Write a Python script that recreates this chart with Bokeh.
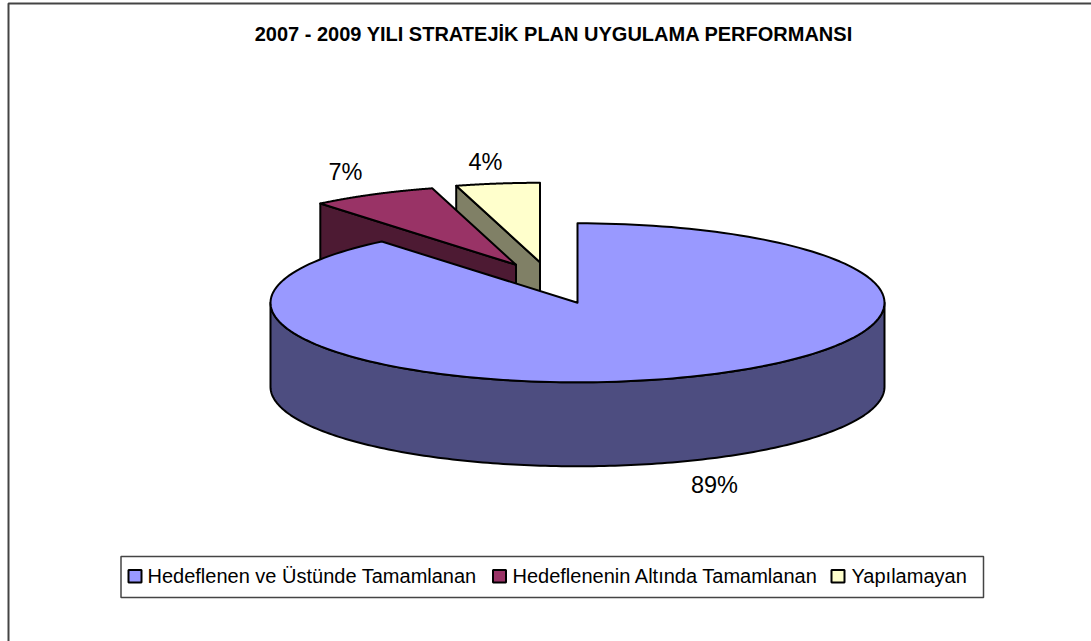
import numpy as np
from bokeh.plotting import figure
from bokeh.embed import file_html
from bokeh.resources import INLINE
from bokeh.models import Range1d
from bokeh.core.properties import value

title = "2007 - 2009 YILI STRATEJİK PLAN UYGULAMA PERFORMANSI"
categories = ["Hedeflenen ve Üstünde Tamamlanan", "Hedeflenenin Altında Tamamlanan", "Yapılamayan"]
shares = [89.0, 6.6, 4.4]
top_colors = ["#9999FF", "#993366", "#FFFFCC"]
wall_colors = ["#4D4D80", "#4D1A33", "#808066"]
# chart-space explode offsets of each slice
offsets = [(0, 0), (-61.5, -38), (-37.5, -40.5)]

W, H = 1091, 641
CX, CY, RX, RY, DEPTH = 577, 302.3, 307, 79.5, 84
FONT = value("Liberation Sans")

p = figure(width=W, height=H, x_range=Range1d(0, W), y_range=Range1d(H, 0),
           output_backend="svg", toolbar_location=None, min_border=0)
p.axis.visible = False
p.grid.visible = False
p.outline_line_color = None
p.styles = {"position": "absolute", "left": "0", "top": "0"}

def rim(a0, a1, ox, oy, dz=0):
    t = np.radians(np.linspace(a0, a1, 181))
    return CX + ox + RX * np.sin(t), CY + oy + dz - RY * np.cos(t)

def poly(xs, ys, color, width=2):
    p.patch(list(xs), list(ys), fill_color=color, line_color="black", line_width=width, line_join="round")

# angle spans, clockwise from twelve o'clock
edges = np.cumsum([0] + shares) * 3.6
spans = [(edges[i], edges[i + 1]) for i in range(3)]

# frame: only the left and top edges fall inside the window
p.line([8, 8, W], [H, 3, 3], line_color="#444444", line_width=2)

# exploded slices, back to front
for i in (2, 1):
    a0, a1 = spans[i]
    ox, oy = offsets[i]
    ax, ay = CX + ox, CY + oy
    x0, y0 = rim(a0, a0, ox, oy)
    sx, sy = x0[0], y0[0]
    poly([sx, ax, ax, sx], [sy, ay, ay + DEPTH, sy + DEPTH], wall_colors[i])
    rx, ry = rim(a0, a1, ox, oy)
    poly([ax] + list(rx), [ay] + list(ry), top_colors[i])

# main slice
a0, a1 = spans[0]
fx, fy = rim(90, 270, 0, 0)
bx, by = rim(270, 90, 0, 0, DEPTH)
poly(list(fx) + list(bx), list(fy) + list(by), wall_colors[0])
rx, ry = rim(a0, a1, 0, 0)
poly([CX] + list(rx), [CY] + list(ry), top_colors[0])

# title
p.text([553.5], [33], text=[title], text_font=FONT, text_font_style="bold", text_font_size="20px",
       text_align="center", text_baseline="middle", text_color="black")

# data labels
labels = [f"{round(s)}%" for s in shares]
p.text([714, 345, 485], [484, 171, 161], text=labels, text_font=FONT, text_font_size="23.5px",
       text_align="center", text_baseline="middle", text_color="black")

# legend
p.quad(left=[120.5], right=[983], top=[556], bottom=[597], fill_color="white", line_color="#444444", line_width=1.5)
p.quad(left=[128, 492.5, 831], right=[141, 505.5, 844], top=[569.5] * 3, bottom=[582] * 3,
       fill_color=top_colors, line_color="black", line_width=2)
p.text([147, 512, 851], [575] * 3, text=categories, text_font=FONT, text_font_size="20px",
       text_align="left", text_baseline="middle", text_color="black")

open("out.html", "w").write(file_html(p, INLINE))
